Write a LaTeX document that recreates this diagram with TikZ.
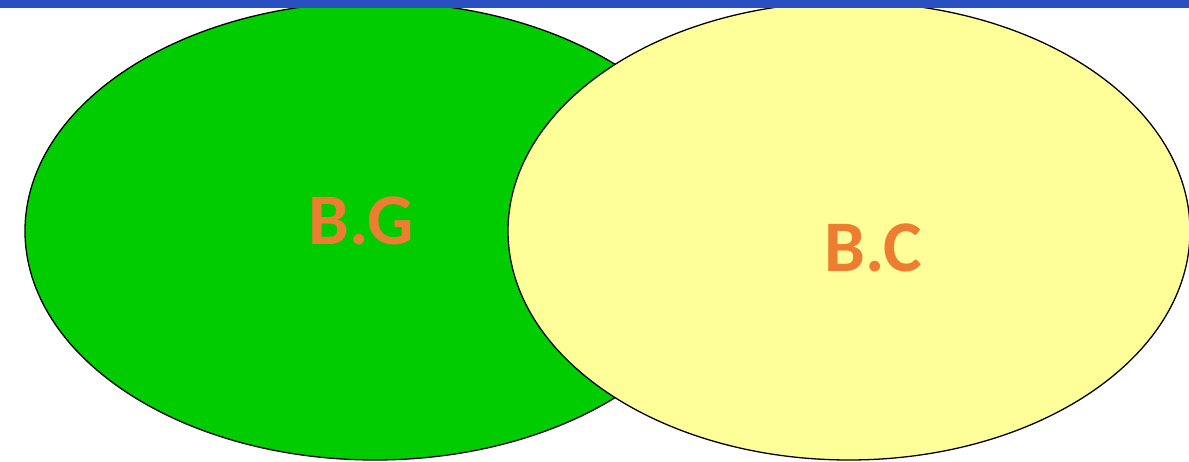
\documentclass[tikz,border=0pt]{standalone}
\usepackage{fontspec}
\usepackage{tikz}
\usepackage{xcolor}
\usetikzlibrary{shapes.geometric}
\newfontfamily\labelfont{Carlito}
\definecolor{bar}{HTML}{2850C0}
\definecolor{leaf}{HTML}{00CC00}
\definecolor{straw}{HTML}{FFFF99}
\definecolor{tag}{HTML}{ED7D31}

\begin{document}
\begin{tikzpicture}[x=1bp, y=1bp]
    \useasboundingbox (0,0) rectangle (1189,462);
    \begin{scope}
      \clip (0,0) rectangle (1189,462);
      \node[ellipse, draw=black, line width=1.3pt, fill=leaf, inner sep=0pt,
            minimum width=700bp, minimum height=458bp] (bg) at (375,231) {};
      \node[ellipse, draw=black, line width=1.3pt, fill=straw, inner sep=0pt,
            minimum width=682bp, minimum height=458bp] (bc) at (849,231) {};
      \fill[bar] (0,454) rectangle (1189,462);
    \end{scope}
    \node[font=\labelfont\bfseries\fontsize{73}{73}\selectfont, text=tag,
          inner sep=0pt] (bglabel) at (361,241) {B.G};
    \node[font=\labelfont\bfseries\fontsize{73}{73}\selectfont, text=tag,
          inner sep=0pt] (bclabel) at (873,214) {B.C};
  \end{tikzpicture}
\end{document}
